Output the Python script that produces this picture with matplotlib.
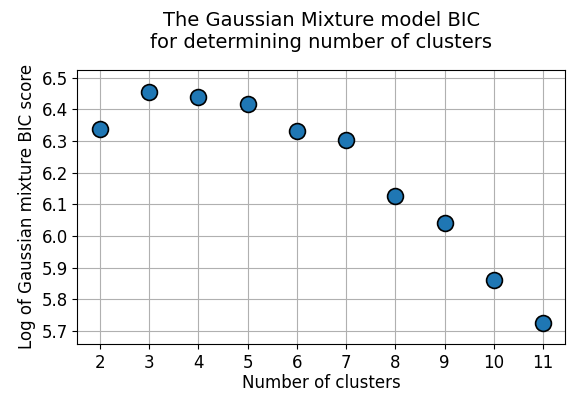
import matplotlib
matplotlib.use('Agg')
import matplotlib.pyplot as plt
import numpy as np

n_clusters = [2, 3, 4, 5, 6, 7, 8, 9, 10, 11]
log_bic = [6.338, 6.455, 6.439, 6.418, 6.331, 6.303, 6.128, 6.042, 5.862, 5.726]
y_ticks = [5.7, 5.8, 5.9, 6.0, 6.1, 6.2, 6.3, 6.4, 6.5]

fig, ax = plt.subplots(figsize=(5.74, 3.93), dpi=100)
ax.scatter(n_clusters, log_bic, s=130, c='#1f77b4', edgecolors='k', linewidths=1.2, zorder=3)
ax.set_title('The Gaussian Mixture model BIC\nfor determining number of clusters', fontsize=14, pad=16)
ax.set_xlabel('Number of clusters', fontsize=12, labelpad=2)
ax.set_ylabel('Log of Gaussian mixture BIC score', fontsize=12)
ax.set_xticks(n_clusters)
ax.set_yticks(y_ticks)
ax.set_yticklabels([f'{v:.1f}' for v in y_ticks])
ax.set_ylim(5.659, 6.525)
ax.tick_params(labelsize=12)
ax.grid(True)
fig.subplots_adjust(left=0.135, right=0.985, top=0.822, bottom=0.125)
fig.savefig('out.png', dpi=100)
